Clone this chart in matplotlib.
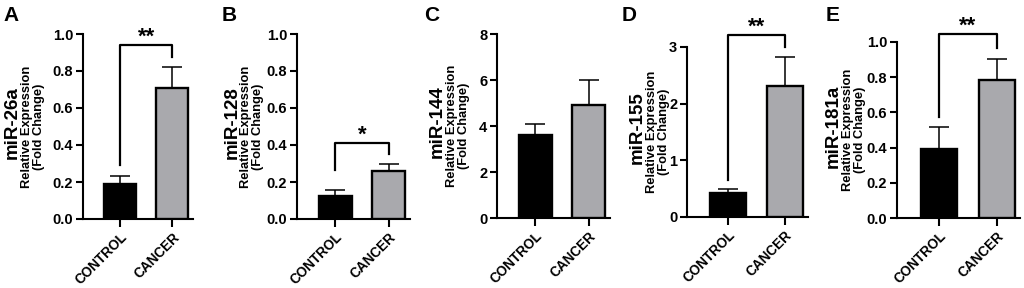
import matplotlib.pyplot as plt

plt.rcParams['font.family'] = ['Liberation Sans', 'DejaVu Sans']
plt.rcParams['font.weight'] = 'bold'

# Data
mirnas = ["miR-26a", "miR-128", "miR-144", "miR-155", "miR-181a"]
groups = ["CONTROL", "CANCER"]
control_mean = [0.19, 0.125, 3.62, 0.42, 0.39]
control_err = [0.045, 0.03, 0.48, 0.08, 0.125]
cancer_mean = [0.71, 0.26, 4.92, 2.32, 0.785]
cancer_err = [0.11, 0.04, 1.10, 0.50, 0.12]
signif = ["**", "*", "", "**", "**"]
bracket_top = [0.94, 0.41, None, 3.21, 1.045]
bracket_left = [0.29, 0.265, None, 0.65, 0.575]
bracket_right = [0.875, 0.35, None, 3.0, 0.966]
y_max = [1.0, 1.0, 8, 3, 1.0]
y_step = [0.2, 0.2, 2, 1, 0.2]
letters = ["A", "B", "C", "D", "E"]

# layout in pixels (figure is 1024 x 288)
W, H = 1024, 288
ax_left = [83, 297, 497, 687, 897]
ax_right = [193, 410, 610, 808, 1020]
ax_top = [34, 34, 34, 47, 42]
ax_bottom = [219, 219, 218, 217, 218]
big_lab_off = [71, 65, 60, 50, 64]
small_lab_off = [50, 45, 39, 29, 43]
letter_x = [3, 222, 424, 622, 826]

fig = plt.figure(figsize=(W / 100, H / 100), dpi=100)

for i in range(5):
    l, r, t, b = ax_left[i], ax_right[i], ax_top[i], ax_bottom[i]
    ax = fig.add_axes([l / W, 1 - b / H, (r - l) / W, (b - t) / H])

    means = [control_mean[i], cancer_mean[i]]
    errs = [control_err[i], cancer_err[i]]
    ax.bar([0, 1], means, width=0.62, color=["black", "#a9a9ad"],
           edgecolor="black", linewidth=1.7, zorder=3)
    ax.errorbar([0, 1], means, yerr=[[0, 0], errs], fmt="none", ecolor="black",
                elinewidth=1.1, capsize=7, capthick=1.1, zorder=2)

    ax.set_xlim(-0.72, 1.4)
    ax.set_ylim(0, y_max[i])
    n = int(round(y_max[i] / y_step[i]))
    ticks = [k * y_step[i] for k in range(n + 1)]
    ax.set_yticks(ticks)
    if y_step[i] < 1:
        ax.set_yticklabels([f"{v:.1f}" for v in ticks])
    else:
        ax.set_yticklabels([f"{int(v)}" for v in ticks])
    ax.set_xticks([0, 1])
    ax.set_xticklabels(groups, rotation=45, ha="right", rotation_mode="anchor",
                       fontsize=9.8, fontweight="bold")
    ax.tick_params(axis="y", labelsize=10.5, width=1.5, length=5, pad=2)
    ax.tick_params(axis="x", width=1.5, length=6, pad=2)
    for lab in ax.get_yticklabels():
        lab.set_fontweight("bold")
    ax.spines["top"].set_visible(False)
    ax.spines["right"].set_visible(False)
    ax.spines["left"].set_linewidth(1.5)
    ax.spines["bottom"].set_linewidth(1.5)

    yc = 1 - (t + b) / 2 / H
    fig.text((l - big_lab_off[i]) / W, yc + 4 / H, mirnas[i], rotation=90,
             ha="center", va="center", fontsize=13.5, fontweight="bold")
    fig.text((l - small_lab_off[i]) / W, yc, "Relative Expression\n(Fold Change)",
             rotation=90, ha="center", va="center", fontsize=9.3,
             fontweight="bold", linespacing=1.05)
    fig.text(letter_x[i] / W, 1 - 21 / H, letters[i], fontsize=15,
             fontweight="bold", ha="left", va="baseline")

    if signif[i]:
        ax.plot([0, 0, 1, 1],
                [bracket_left[i], bracket_top[i], bracket_top[i], bracket_right[i]],
                color="black", linewidth=1.6, clip_on=False, zorder=4)
        ax.annotate(signif[i], (0.5, bracket_top[i]), xytext=(0, -2),
                    textcoords="offset points", ha="center", va="bottom",
                    fontsize=16, fontweight="bold", annotation_clip=False)

fig.savefig("out.png", dpi=100)
